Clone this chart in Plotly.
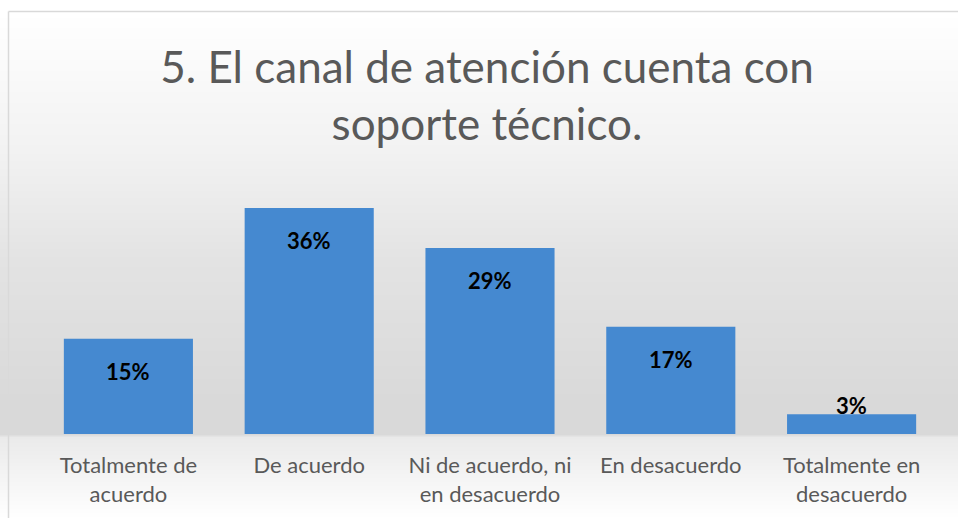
import base64, struct, zlib
import plotly.graph_objects as go

categories = ["Totalmente de<br>acuerdo", "De acuerdo", "Ni de acuerdo, ni<br>en desacuerdo",
              "En desacuerdo", "Totalmente en<br>desacuerdo"]
values = [15.0, 35.6, 29.3, 16.9, 3.1]
labels = ["15%", "36%", "29%", "17%", "3%"]
title_text = "5. El canal de atención cuenta con<br>soporte técnico."

W, H = 958, 518
ML, MR, MT, MB = 38, 16, 180, 84

# vertical background gradient as a 1-pixel-wide PNG
def shade(y):
    stops = [(0, 255), (12, 255), (150, 242), (260, 227), (400, 217), (434, 217),
             (437, 234), (518, 255)]
    for (y0, v0), (y1, v1) in zip(stops, stops[1:]):
        if y0 <= y <= y1:
            t = 0 if y1 == y0 else (y - y0) / (y1 - y0)
            return int(round(v0 + (v1 - v0) * t))
    return 255

raw = b"".join(b"\x00" + bytes([shade(y)]) for y in range(H))
def chunk(tag, data):
    return struct.pack(">I", len(data)) + tag + data + struct.pack(">I", zlib.crc32(tag + data) & 0xffffffff)
png = (b"\x89PNG\r\n\x1a\n" + chunk(b"IHDR", struct.pack(">IIBBBBB", 1, H, 8, 0, 0, 0, 0))
       + chunk(b"IDAT", zlib.compress(raw)) + chunk(b"IEND", b""))
bg_uri = "data:image/png;base64," + base64.b64encode(png).decode()

pw, ph = W - ML - MR, H - MT - MB
def px(x):  # figure px -> paper x
    return (x - ML) / pw
def py(y):  # figure px (from top) -> paper y
    return (H - MB - y) / ph

fig = go.Figure()
fig.add_trace(go.Bar(
    x=categories, y=values,
    marker=dict(color="#4589d0", line=dict(width=0)),
    hoverinfo="skip",
))

annotations = []
for c, v, t in zip(categories, values, labels):
    if v < 5:
        annotations.append(dict(x=c, y=v, xref="x", yref="y", text=f"<b>{t}</b>", showarrow=False,
                                yanchor="bottom", yshift=-7,
                                font=dict(family="Lato, sans-serif", size=22, color="#000000")))
    else:
        annotations.append(dict(x=c, y=v, xref="x", yref="y", text=f"<b>{t}</b>", showarrow=False,
                                yanchor="top", yshift=-17,
                                font=dict(family="Lato, sans-serif", size=22, color="#000000")))

fig.update_layout(
    width=W, height=H,
    margin=dict(l=ML, r=MR, t=MT, b=MB),
    paper_bgcolor="#ffffff", plot_bgcolor="rgba(0,0,0,0)",
    bargap=0.286,
    showlegend=False,
    title=dict(text=title_text, x=487 / W, xanchor="center", y=1 - 83 / H, yanchor="middle",
               font=dict(family="Lato, sans-serif", size=44, color="#595959")),
    xaxis=dict(showgrid=False, showline=False, zeroline=False, ticks="", ticklabelstandoff=16,
               tickfont=dict(family="Lato, sans-serif", size=22, color="#595959")),
    yaxis=dict(range=[0, 40], visible=False, showgrid=False, zeroline=False),
    annotations=annotations,
    images=[dict(source=bg_uri, xref="paper", yref="paper", x=px(0), y=py(0),
                 sizex=W / pw, sizey=H / ph, sizing="stretch", xanchor="left", yanchor="top",
                 layer="below")],
    shapes=[
        dict(type="line", xref="paper", yref="paper", x0=px(8.5), x1=px(W), y0=py(11.5), y1=py(11.5),
             line=dict(color="#d9d9d9", width=1.5)),
        dict(type="line", xref="paper", yref="paper", x0=px(8.5), x1=px(8.5), y0=py(11.5), y1=py(H),
             line=dict(color="#d9d9d9", width=1.5)),
    ],
)

fig.write_html("out.html")
